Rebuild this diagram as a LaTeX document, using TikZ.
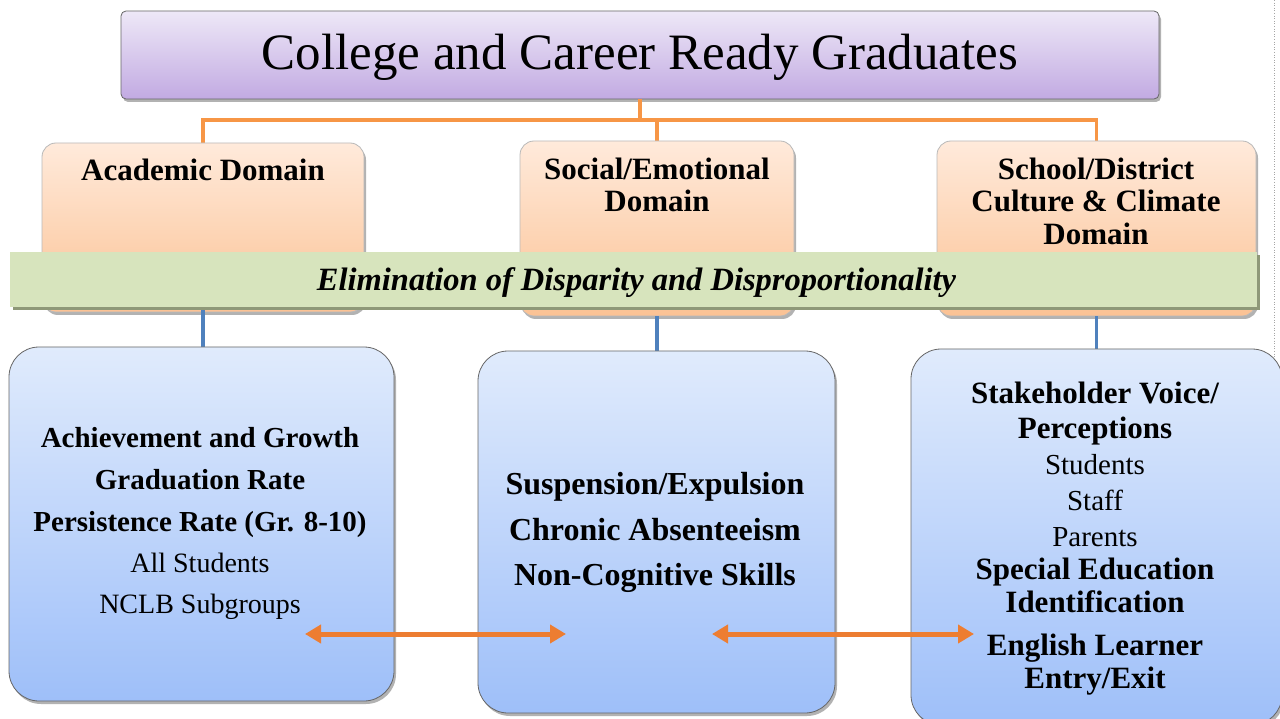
\documentclass[tikz,border=0pt]{standalone}
\usepackage{fontspec}
\setmainfont{Liberation Serif}
\usetikzlibrary{shadows,arrows.meta}
\definecolor{purTop}{HTML}{EEE8F7}
\definecolor{purBot}{HTML}{C2AAE2}
\definecolor{orTop}{HTML}{FFEADB}
\definecolor{orBot}{HTML}{FBC294}
\definecolor{grn}{HTML}{D7E4BD}
\definecolor{grnShadow}{HTML}{8E9878}
\definecolor{bluTop}{HTML}{E0EBFC}
\definecolor{bluBot}{HTML}{9EBFF9}
\definecolor{conOr}{HTML}{F79646}
\definecolor{conBl}{HTML}{4F81BD}
\definecolor{arrOr}{HTML}{ED7D31}
\newcommand\fsz[1]{\fontsize{#1}{#1}\selectfont}
\tikzset{
  topbox/.style={draw=gray!80!black, line width=0.8pt, rounded corners=5pt,
    top color=purTop, bottom color=purBot, inner sep=0pt,
    drop shadow={shadow xshift=2pt, shadow yshift=-3pt, fill=black, opacity=0.3}},
  dombox/.style={draw=gray!55, line width=0.8pt, rounded corners=14pt,
    top color=orTop, bottom color=orBot, inner sep=0pt,
    drop shadow={shadow xshift=2pt, shadow yshift=-3pt, fill=black, opacity=0.3}},
  measbox/.style={draw=gray!80!black, line width=0.8pt, rounded corners=30pt,
    top color=bluTop, bottom color=bluBot, inner sep=0pt,
    drop shadow={shadow xshift=2pt, shadow yshift=-3pt, fill=black, opacity=0.3}},
  bandbox/.style={fill=grn, draw=none, inner sep=0pt,
    drop shadow={shadow xshift=3pt, shadow yshift=-3pt, fill=grnShadow, opacity=1}},
  orline/.style={draw=conOr, line width=3.5pt},
  blline/.style={draw=conBl, line width=3.5pt},
  dblarrow/.style={draw=arrOr, line width=5pt,
    {Triangle[length=16pt,width=18pt]}-{Triangle[length=16pt,width=18pt]}},
  lbl/.style={anchor=base, inner sep=0pt, font=\bfseries\fsz{31}},
  bt/.style={anchor=base, inner sep=0pt, font=\bfseries\fsz{#1}},
  rt/.style={anchor=base, inner sep=0pt, font=\fsz{#1}},
}
\begin{document}
\begin{tikzpicture}[x=1pt,y=-1pt]
\useasboundingbox (0,0) rectangle (1280,719);
\fill[white] (0,0) rectangle (1280,719);
\draw[gray!70, dotted, line width=0.6pt] (1274,0) -- (1274,360);

\node[topbox, minimum width=1038pt, minimum height=88pt] (top) at (640,55) {};
\node[anchor=base, inner sep=0pt, font=\fsz{51}] (toptext) at (640,70) {College and Career Ready Graduates};

\coordinate (hub) at (640,120);

\path (203,227.5) coordinate (acadc) (657,228.5) coordinate (socc) (1096.5,228.5) coordinate (schc);
\path (201.5,524) coordinate (b1c) (656.5,532) coordinate (b2c) (1096.5,537) coordinate (b3c);

\draw[orline] (top.south) -- (hub);
\draw[orline] (hub) -| (203,143) coordinate (acadtop);
\draw[orline] (hub) -| (657,141) coordinate (soctop);
\draw[orline] (hub) -| (1096.5,141) coordinate (schtop);

\node[dombox, minimum width=322pt, minimum height=169pt] (acad) at (acadc) {};
\node[dombox, minimum width=274pt, minimum height=175pt] (soc) at (socc) {};
\node[dombox, minimum width=319pt, minimum height=175pt] (sch) at (schc) {};

\node[lbl] (acadl) at (203,181) {Academic Domain};
\node[lbl] (socl1) at (657,180) {Social/Emotional};
\node[lbl] (socl2) at (657,212) {Domain};
\node[lbl] (schl1) at (1096,180) {School/District};
\node[lbl] (schl2) at (1096,212) {Culture \& Climate};
\node[lbl] (schl3) at (1096,245) {Domain};

\draw[blline] (203,309) -- (203,348);
\draw[blline] (soc.south) -- (657,352);
\draw[blline] (sch.south) -- (1096.5,350);

\node[bandbox, minimum width=1247pt, minimum height=55pt] (band) at (633.5,279.5) {};
\node[anchor=base, inner sep=0pt, font=\bfseries\itshape\fsz{32.5}] (bandtext) at (636.5,291) {Elimination of Disparity and Disproportionality};

\node[measbox, minimum width=385pt, minimum height=354pt] (bl1) at (b1c) {};
\node[measbox, minimum width=357pt, minimum height=362pt] (bl2) at (b2c) {};
\node[measbox, minimum width=371pt, minimum height=376pt] (bl3) at (b3c) {};

\node[bt=29] (l1) at (200,447) {Achievement and Growth};
\node[bt=29] (l2) at (200,489) {Graduation Rate};
\node[bt=29] (l3) at (200,531) {Persistence Rate (Gr. 8-10)};
\node[rt=28] (l4) at (200,572) {All Students};
\node[rt=28] (l5) at (200,613) {NCLB Subgroups};

\node[bt=32] (m1) at (655,494) {Suspension/Expulsion};
\node[bt=32] (m2) at (655,540) {Chronic Absenteeism};
\node[bt=32] (m3) at (655,585) {Non-Cognitive Skills};

\node[bt=31] (r1) at (1095,403) {Stakeholder Voice/};
\node[bt=31] (r2) at (1095,438) {Perceptions};
\node[rt=29] (r3) at (1095,474) {Students};
\node[rt=29] (r4) at (1095,510) {Staff};
\node[rt=29] (r5) at (1095,546) {Parents};
\node[bt=31] (r6) at (1095,579) {Special Education};
\node[bt=31] (r7) at (1095,612) {Identification};
\node[bt=31] (r8) at (1095,655) {English Learner};
\node[bt=31] (r9) at (1095,688) {Entry/Exit};

\coordinate (a1) at (305,634);
\coordinate (a2) at (566,634);
\coordinate (a3) at (712,634);
\coordinate (a4) at (974,634);
\draw[dblarrow] (a1) -- (a2);
\draw[dblarrow] (a3) -- (a4);
\end{tikzpicture}
\end{document}
